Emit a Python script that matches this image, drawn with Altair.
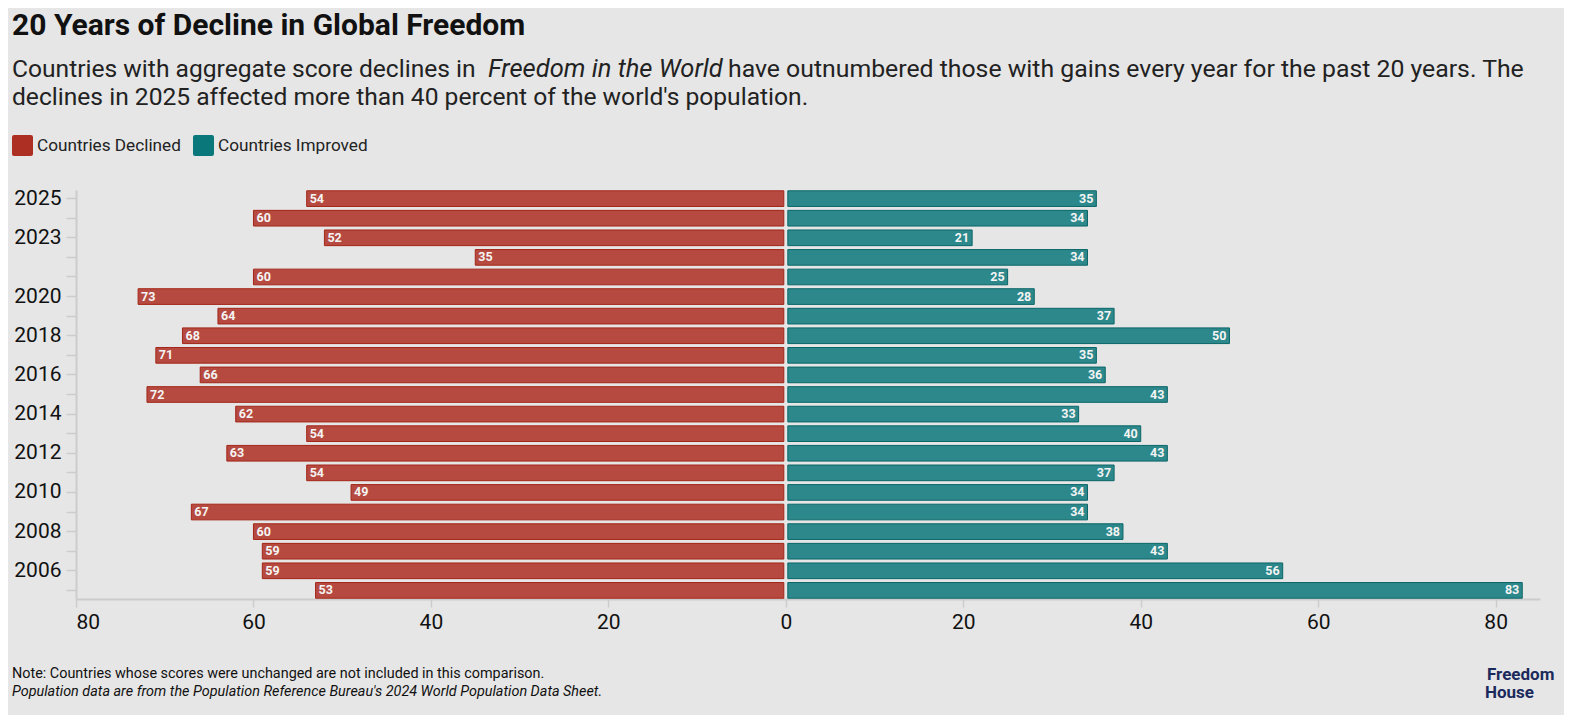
import altair as alt
import pandas as pd

# ---------------- data ----------------
YEARS = [str(y) for y in range(2025, 2004, -1)]
DECLINED = [54, 60, 52, 35, 60, 73, 64, 68, 71, 66, 72, 62, 54, 63, 54, 49, 67, 60, 59, 59, 53]
IMPROVED = [35, 34, 21, 34, 25, 28, 37, 50, 35, 36, 43, 33, 40, 43, 37, 34, 34, 38, 43, 56, 83]
SHOWN_YEARS = ["2025", "2023", "2020", "2018", "2016", "2014", "2012", "2010", "2008", "2006"]
X_TICKS = [-80, -60, -40, -20, 0, 20, 40, 60, 80]
SERIES = ["Countries Declined", "Countries Improved"]
COLORS = ["#ad2e22", "#0a777a"]

TITLE = "20 Years of Decline in Global Freedom"
SUB1A = "Countries with aggregate score declines in "
SUB1B = "Freedom in the World"
SUB1C = "have outnumbered those with gains every year for the past 20 years. The"
SUB2 = "declines in 2025 affected more than 40 percent of the world's population."
NOTE1 = "Note: Countries whose scores were unchanged are not included in this comparison."
NOTE2 = "Population data are from the Population Reference Bureau's 2024 World Population Data Sheet."
LOGO = ["Freedom", "House"]

FONT = "Roboto"
BG = "#e6e6e6"

dec = pd.DataFrame({"year": YEARS, "count": DECLINED,
                    "signed": [-v for v in DECLINED], "series": SERIES[0]})
imp = pd.DataFrame({"year": YEARS, "count": IMPROVED,
                    "signed": IMPROVED, "series": SERIES[1]})

xscale = alt.Scale(domain=[-80, 85], nice=False, zero=False)
xaxis = alt.Axis(title=None, values=X_TICKS, labelExpr="abs(datum.value)", grid=False,
                 domainColor="#cccccc", domainWidth=2, tickColor="#cccccc", tickWidth=1.5,
                 tickSize=8, labelFontSize=21, labelFont=FONT, labelColor="#111111",
                 labelPadding=4)
shown = ",".join("'%s'" % s for s in SHOWN_YEARS)
yaxis = alt.Axis(title=None, labelExpr="indexof([%s], datum.label) >= 0 ? datum.label : ''" % shown,
                 domainColor="#cccccc", domainWidth=2, tickColor="#cccccc", tickWidth=1.5,
                 tickSize=10, labelFontSize=21, labelFont=FONT, labelColor="#111111",
                 labelPadding=5)
yenc = alt.Y("year:N", sort=YEARS, scale=alt.Scale(paddingInner=0.2, paddingOuter=0.04), axis=yaxis)

ROUNDED = ("M-0.8,-1 H0.8 Q1,-1 1,-0.8 V0.8 Q1,1 0.8,1 H-0.8 Q-1,1 -1,0.8 "
           "V-0.8 Q-1,-1 -0.8,-1 Z")
color = alt.Color("series:N", scale=alt.Scale(domain=SERIES, range=COLORS),
                  legend=alt.Legend(title=None, orient="none", legendX=-64, legendY=-55,
                                    direction="horizontal", symbolType=ROUNDED,
                                    symbolSize=441, symbolOpacity=1, symbolStrokeWidth=0,
                                    labelFontSize=17.2, labelFont=FONT, labelColor="#222222",
                                    columnPadding=12, labelOffset=4, padding=0))

red_bars = alt.Chart(dec).mark_bar(x2Offset=-2, fillOpacity=0.85, stroke="#a32618",
                                   strokeWidth=1).encode(
    x=alt.X("signed:Q", scale=xscale, axis=xaxis), x2=alt.X2(datum=0), y=yenc, color=color)
teal_bars = alt.Chart(imp).mark_bar(x2Offset=2, fillOpacity=0.85, stroke="#0b6668",
                                    strokeWidth=1).encode(
    x=alt.X("signed:Q", scale=xscale, axis=xaxis), x2=alt.X2(datum=0), y=yenc, color=color)

lab_style = dict(font=FONT, fontSize=12.5, fontWeight="bold", color="#f4f4f4", baseline="middle")
red_text = alt.Chart(dec).mark_text(align="left", dx=3, **lab_style).encode(
    x=alt.X("signed:Q", scale=xscale), y=yenc, text="count:Q")
teal_text = alt.Chart(imp).mark_text(align="right", dx=-3, **lab_style).encode(
    x=alt.X("signed:Q", scale=xscale), y=yenc, text="count:Q")


def note(txt, x, y, size, weight="normal", style="normal", color="#111111", font=FONT):
    return alt.Chart(pd.DataFrame({"t": [txt]})).mark_text(
        align="left", baseline="alphabetic", font=font, fontSize=size,
        fontWeight=weight, fontStyle=style, color=color).encode(
        text="t:N", x=alt.value(x), y=alt.value(y))


annos = [
    note(TITLE, -64, -155, 30, weight="bold"),
    note(SUB1A, -64, -113, 24.6, color="#222222"),
    note(SUB1B, 412, -113, 25.5, style="italic", color="#222222"),
    note(SUB1C, 652, -113, 24.8, color="#222222"),
    note(SUB2, -64, -85, 24.6, color="#222222"),
    note(NOTE1, -64, 488, 14.4),
    note(NOTE2, -64, 506, 14.4, style="italic"),
    note(LOGO[0], 1411, 490, 17, weight="bold", color="#1b2a5c"),
    note(LOGO[1], 1409, 508, 17, weight="bold", color="#1b2a5c"),
]

chart = alt.layer(red_bars, teal_bars, red_text, teal_text, *annos).properties(
    width=1464, height=409, background=BG,
    padding={"left": 68, "top": 182, "right": 24, "bottom": 116},
    autosize=alt.AutoSizeParams(type="none"),
).configure_view(stroke=None)

chart.save("out.html", embed_options={"renderer": "svg", "actions": False})
